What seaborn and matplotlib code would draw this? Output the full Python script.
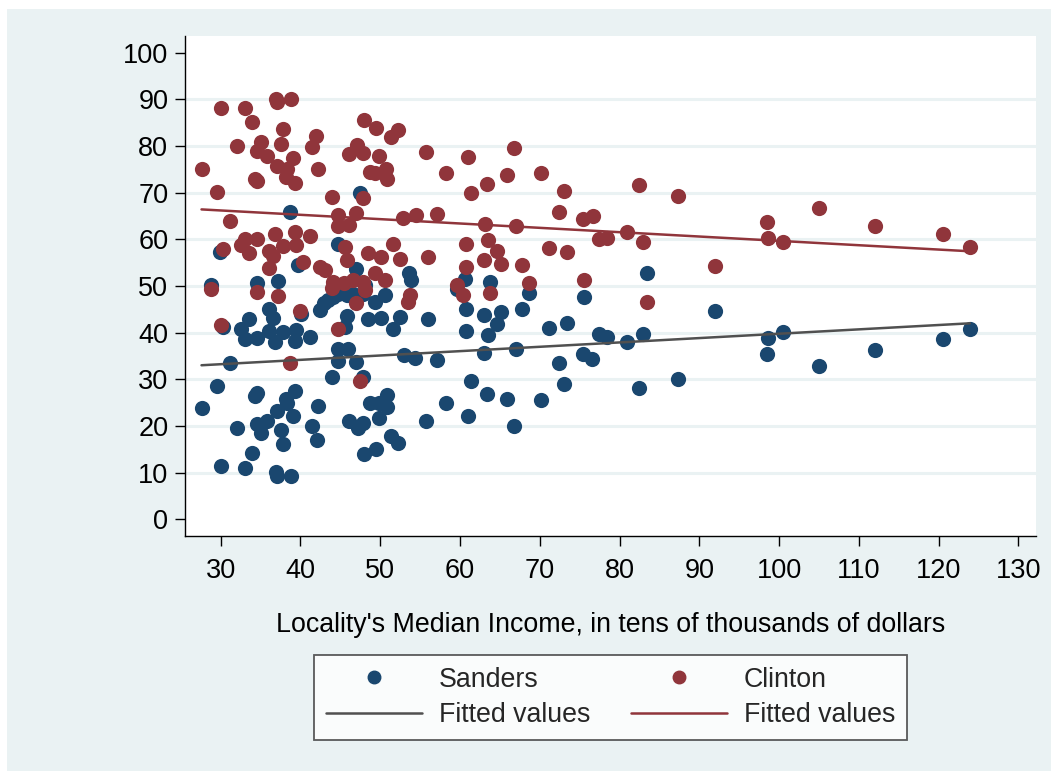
import numpy as np
import pandas as pd
import matplotlib
matplotlib.use("Agg")
import matplotlib.pyplot as plt
from matplotlib.patches import Rectangle
from matplotlib.lines import Line2D
import seaborn as sns

# Sanders share by locality (income in tens of thousands of dollars)
sanders_income = [
    38.7, 29.9, 39.7, 28.8, 34.6, 37.2, 36.0, 33.5, 36.5, 40.1,
    30.3, 32.6, 33.0, 34.6, 36.1, 36.8, 37.8, 39.4, 39.3, 31.2,
    29.6, 27.6, 34.5, 34.3, 39.3, 38.2, 38.3, 37.1, 39.1, 32.1,
    34.6, 35.0, 35.8, 37.6, 37.8, 33.9, 30.1, 33.0, 36.9, 37.0, 38.8,
    47.5, 44.7, 47.0, 53.6,
    53.9, 60.6, 42.4, 43.0, 43.5, 44.1, 44.7, 45.8, 49.3, 50.6,
    45.8, 48.5, 50.1, 52.5, 56.0, 60.8, 45.6, 41.2, 51.6, 60.8,
    44.7, 46.0, 44.7, 47.0, 53.0, 54.4, 57.1, 44.0, 47.9, 61.4,
    50.9, 48.7, 49.8, 50.8, 42.2, 58.3, 49.8, 61.0, 46.1, 47.2,
    47.9, 41.4, 55.8, 42.1, 51.3, 52.2, 48.0, 49.5,
    46.6, 47.9, 48.1, 59.6,
    63.7, 68.7, 75.5, 83.5,
    63.0, 65.1, 67.8, 64.6, 63.5, 71.1, 73.4, 77.4, 78.4, 80.9,
    83.0, 63.0, 67.0, 75.4, 76.6, 72.4, 73.0, 63.4, 65.9, 70.1,
    66.8, 82.4, 87.3,
    92.0, 98.6, 98.5, 100.5, 105.0, 112.0, 120.5, 123.9,
]
sanders_share = [
    65.9, 57.4, 54.6, 50.2, 50.6, 51.1, 45.0, 42.9, 43.1, 44.1,
    41.3, 40.7, 38.6, 38.8, 40.4, 38.1, 40.2, 40.6, 38.2, 33.6,
    28.6, 23.9, 27.0, 26.4, 27.4, 25.7, 24.9, 23.3, 22.1, 19.6,
    20.4, 18.6, 21.1, 19.1, 16.1, 14.3, 11.4, 11.1, 10.2, 9.3, 9.3,
    70.0, 59.1, 53.6, 52.9,
    51.3, 51.5, 44.9, 46.3, 47.0, 47.7, 48.3, 48.1, 46.6, 48.1,
    43.6, 42.9, 43.1, 43.4, 42.9, 45.0, 41.3, 39.1, 40.7, 40.4,
    36.6, 36.6, 34.0, 33.8, 35.2, 34.5, 34.1, 30.6, 30.6, 29.7,
    26.6, 25.0, 24.9, 24.1, 24.3, 25.0, 21.8, 22.1, 21.1, 19.5,
    20.6, 19.9, 21.1, 17.0, 17.9, 16.3, 14.0, 15.1,
    48.2, 48.4, 50.2, 49.3,
    50.9, 48.6, 47.7, 52.7,
    43.8, 44.5, 45.0, 41.8, 39.5, 41.1, 42.1, 39.7, 39.1, 38.1,
    39.7, 35.7, 36.5, 35.4, 34.3, 33.6, 28.9, 26.9, 25.8, 25.6,
    20.1, 28.1, 30.0,
    44.6, 38.9, 35.4, 40.2, 32.9, 36.3, 38.6, 40.8,
]

# Clinton share by locality
clinton_income = [
    27.6, 30.1, 33.0, 33.9, 36.9, 37.0, 38.8, 37.8, 35.0, 32.1,
    34.5, 35.8, 37.6, 39.1, 37.1, 38.3, 38.2, 39.3, 34.3, 34.6,
    29.6, 31.2, 33.0, 32.5, 33.5, 34.6, 36.8, 39.3, 37.8, 39.4,
    36.1, 36.5, 36.0, 30.3,
    28.8, 34.6, 37.2, 39.9, 30.1, 38.7,
    48.0, 49.5, 52.2, 51.4, 42.0, 41.4, 47.1, 46.1, 47.8, 49.8,
    55.7, 61.0, 42.2, 48.7, 49.3, 50.7, 50.9, 58.3, 61.4, 44.0,
    47.8, 44.7, 47.0, 44.7, 46.1, 52.9, 54.5, 57.1, 41.2, 51.6,
    60.8, 45.6, 45.8, 48.5, 50.1, 52.5, 56.0, 60.8, 40.3, 42.4,
    43.1, 49.3,
    44.1, 43.9, 45.4, 46.6, 47.9, 48.1, 50.6, 47.0, 53.7, 53.5,
    59.6, 60.4, 44.7, 47.5,
    66.8, 63.4, 65.9, 70.1, 73.0, 82.4, 87.3, 72.4, 75.4, 76.7,
    63.1, 67.0, 63.5, 80.9, 77.4, 78.4, 83.0, 64.6, 63.0, 65.1,
    67.8, 71.2, 73.4, 68.7, 75.5, 63.7,
    83.5,
    92.0, 98.5, 98.6, 100.5, 105.0, 112.0, 120.5, 123.9,
]
clinton_share = [
    75.0, 88.1, 88.1, 85.2, 90.2, 89.5, 90.2, 83.6, 80.9, 80.0,
    79.0, 77.9, 80.4, 77.4, 75.7, 75.0, 73.4, 72.1, 72.9, 72.5,
    70.1, 64.0, 60.0, 58.8, 57.1, 60.0, 61.1, 61.6, 58.6, 58.9,
    57.6, 56.4, 53.8, 57.9,
    49.3, 48.8, 47.9, 44.7, 41.6, 33.6,
    85.6, 83.8, 83.4, 81.9, 82.1, 79.9, 80.2, 78.4, 78.6, 77.9,
    78.8, 77.6, 75.0, 74.5, 74.3, 75.0, 72.9, 74.2, 69.9, 69.1,
    68.8, 65.2, 65.7, 62.9, 63.1, 64.5, 65.2, 65.4, 60.7, 59.1,
    59.0, 58.4, 55.6, 57.1, 56.3, 55.7, 56.3, 54.1, 55.2, 54.1,
    53.4, 52.7,
    50.9, 49.5, 50.6, 51.3, 50.9, 49.1, 51.3, 46.3, 48.1, 46.6,
    50.2, 48.1, 40.7, 29.7,
    79.5, 71.9, 73.8, 74.2, 70.4, 71.6, 69.4, 65.9, 64.3, 65.0,
    63.2, 62.9, 59.9, 61.5, 60.0, 60.4, 59.4, 57.6, 55.6, 54.7,
    54.5, 58.1, 57.2, 50.6, 51.3, 48.6,
    46.5,
    54.4, 63.8, 60.4, 59.4, 66.8, 62.9, 61.2, 58.4,
]

x_ticks = list(range(30, 131, 10))
y_ticks = list(range(0, 101, 10))
grid_levels = list(range(10, 100, 10))
x_title = "Locality's Median Income, in tens of thousands of dollars"
legend_labels = ["Sanders", "Fitted values", "Clinton", "Fitted values"]

sanders = pd.DataFrame({"income": sanders_income, "share": sanders_share})
clinton = pd.DataFrame({"income": clinton_income, "share": clinton_share})

NAVY = "#1A476F"
MAROON = "#90353B"
FIT_GRAY = "#505050"
BG = "#EAF2F3"

sns.set_style("ticks")
plt.rcParams["font.family"] = ["Liberation Sans", "DejaVu Sans"]

W, H = 1051, 771
fig = plt.figure(figsize=(W / 100, H / 100), dpi=100, facecolor="white")
# Stata-like light bluish graph region
fig.add_artist(Rectangle((7 / W, 0), 1, 1 - 9 / H, transform=fig.transFigure,
                         facecolor=BG, edgecolor="none", zorder=-10))

ax = fig.add_axes([185 / W, 1 - 536 / H, (1036 - 185) / W, (536 - 36) / H])
ax.set_facecolor("white")

for lv in grid_levels:
    ax.axhline(lv, color=BG, lw=2.2, zorder=0)

# Scatter points
sns.scatterplot(data=sanders, x="income", y="share", color=NAVY, s=120,
                linewidth=0, ax=ax, zorder=2)
sns.scatterplot(data=clinton, x="income", y="share", color=MAROON, s=120,
                linewidth=0, ax=ax, zorder=3)

# Linear fits
sns.regplot(data=sanders, x="income", y="share", scatter=False, ci=None,
            color=FIT_GRAY, line_kws={"lw": 1.8, "zorder": 4}, ax=ax)
sns.regplot(data=clinton, x="income", y="share", scatter=False, ci=None,
            color=MAROON, line_kws={"lw": 1.8, "zorder": 4}, ax=ax)

ax.set_xlim(25.53, 132.2)
ax.set_ylim(-3.58, 103.6)
ax.set_xticks(x_ticks)
ax.set_yticks(y_ticks)
ax.tick_params(axis="both", direction="out", length=7, width=1, color="black",
               labelsize=19.5, labelcolor="black")
ax.tick_params(axis="x", pad=9)
ax.tick_params(axis="y", pad=5)
for side in ["top", "right"]:
    ax.spines[side].set_visible(False)
for side in ["left", "bottom"]:
    ax.spines[side].set_color("black")
    ax.spines[side].set_linewidth(1)

ax.set_ylabel("")
ax.set_xlabel(x_title, fontsize=19.3, labelpad=20, color="black")

handles = [
    Line2D([], [], marker="o", ls="none", color=NAVY, markersize=9),
    Line2D([], [], color=FIT_GRAY, lw=1.8),
    Line2D([], [], marker="o", ls="none", color=MAROON, markersize=9),
    Line2D([], [], color=MAROON, lw=1.8),
]
leg = fig.legend(handles, legend_labels, ncol=2, loc="center",
                 bbox_to_anchor=(610.5 / W, 1 - 697.5 / H), frameon=True,
                 fancybox=False, fontsize=19.3, handlelength=3.6,
                 handletextpad=0.63, columnspacing=1.5, labelspacing=0.36,
                 borderpad=0.42)
leg.get_frame().set_edgecolor("#333333")
leg.get_frame().set_linewidth(1.3)
leg.get_frame().set_facecolor("white")

fig.savefig("out.png", dpi=100, facecolor=fig.get_facecolor())
